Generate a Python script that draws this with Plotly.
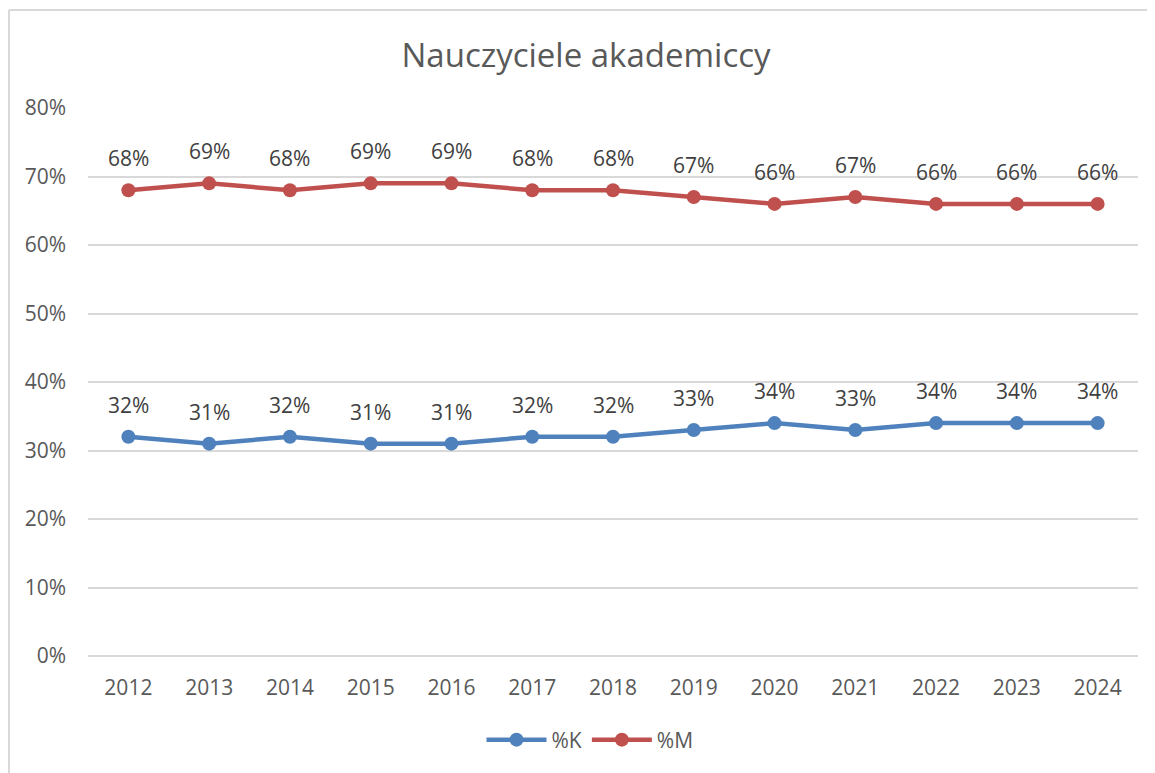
import plotly.graph_objects as go

years = ["2012", "2013", "2014", "2015", "2016", "2017", "2018", "2019", "2020", "2021", "2022", "2023", "2024"]
pct_k = [0.32, 0.31, 0.32, 0.31, 0.31, 0.32, 0.32, 0.33, 0.34, 0.33, 0.34, 0.34, 0.34]
pct_m = [0.68, 0.69, 0.68, 0.69, 0.69, 0.68, 0.68, 0.67, 0.66, 0.67, 0.66, 0.66, 0.66]
series_names = ["%K", "%M"]
colors = ["#4F81BD", "#C0504D"]

FONT = "Open Sans"
OFF = 8  # page body margin
W, H = 1155 - OFF, 773 - OFF
# target pixel positions in the page
PL, PR, PT, PB = 88, 1138, 108, 656
ML, MR, MT, MB = PL - OFF, (1155 - PR), PT - OFF, (773 - PB)
pw = W - ML - MR
ph = H - MT - MB

def px_x(p):
    return (p - OFF - ML) / pw

def px_y(p):
    return (H - MB - (p - OFF)) / ph

fig = go.Figure()
for name, vals, col in zip(series_names, [pct_k, pct_m], colors):
    fig.add_trace(go.Scatter(
        x=years, y=vals, name=name, mode="lines+markers",
        line=dict(color=col, width=4.5),
        marker=dict(color=col, size=14),
        cliponaxis=False,
    ))

annotations = []
for vals in [pct_k, pct_m]:
    for i, v in enumerate(vals):
        annotations.append(dict(
            x=i, y=v, xref="x", yref="y", text=f"{round(v*100)}%",
            showarrow=False, yshift=32, yanchor="middle", xanchor="center",
            font=dict(family=FONT, size=21, color="#404040"),
        ))

fig.update_layout(
    width=W, height=H,
    margin=dict(l=ML, r=MR, t=MT, b=MB),
    paper_bgcolor="white", plot_bgcolor="white",
    font=dict(family=FONT, color="#595959"),
    title=dict(text="Nauczyciele akademiccy", x=px_x(586), xref="paper", xanchor="center",
               y=1 - (55 - OFF) / H, yref="container", yanchor="middle",
               font=dict(family=FONT, size=33, color="#595959")),
    showlegend=True,
    legend=dict(orientation="h", x=px_x(590), xanchor="center", y=px_y(740), yanchor="middle",
                font=dict(family=FONT, size=21, color="#595959"), itemwidth=60,
                traceorder="normal"),
    xaxis=dict(type="category", range=[-0.5, len(years) - 0.5], showgrid=False,
               showline=False, zeroline=False,
               tickfont=dict(family=FONT, size=21, color="#595959"),
               ticks="", ticklabelstandoff=17),
    yaxis=dict(range=[0, 0.8], dtick=0.1, tickformat=".0%", showgrid=True,
               gridcolor="#D9D9D9", gridwidth=1.5, zeroline=True, zerolinecolor="#D9D9D9",
               zerolinewidth=1.5, showline=False,
               tickfont=dict(family=FONT, size=21, color="#595959"),
               ticks="", ticklabelstandoff=21),
    annotations=annotations,
    shapes=[
        dict(type="line", xref="paper", yref="paper", x0=px_x(9), x1=px_x(1160),
             y0=px_y(10), y1=px_y(10), line=dict(color="#D9D9D9", width=2)),
        dict(type="line", xref="paper", yref="paper", x0=px_x(9), x1=px_x(9),
             y0=px_y(10), y1=px_y(780), line=dict(color="#D9D9D9", width=2)),
    ],
)

fig.write_html("out.html")
